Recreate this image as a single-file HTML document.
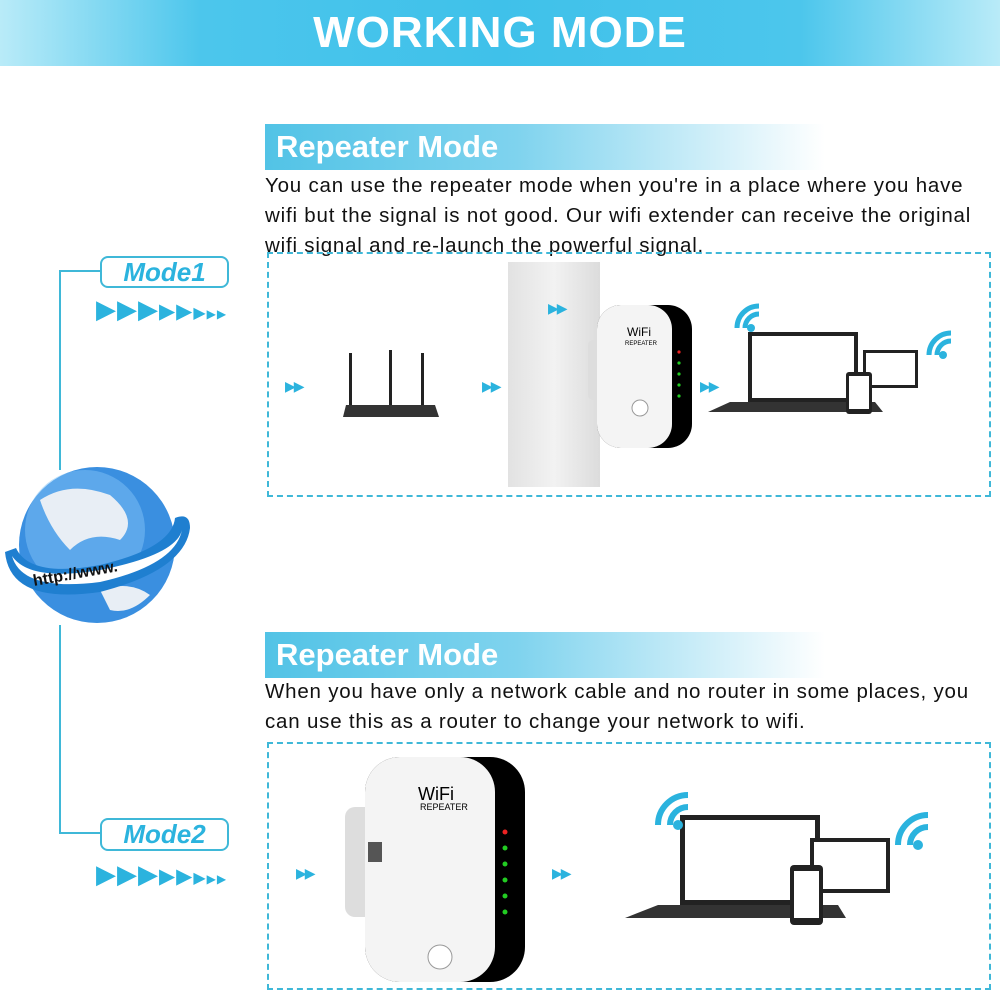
<!DOCTYPE html>
<html><head><meta charset="utf-8"><style>
body{margin:0;width:1000px;height:993px;background:#fff;position:relative;overflow:hidden;font-family:"Liberation Sans",sans-serif}
.abs{position:absolute}
.banner{left:0;top:0;width:1000px;height:66px;background:linear-gradient(90deg,#b9ebf8 0%,#4cc6ec 20%,#3fc1ea 50%,#4cc6ec 80%,#b9ebf8 100%);color:#fff;font-weight:bold;font-size:44px;text-align:center;line-height:66px;letter-spacing:1px}
.hdr{left:265px;width:560px;height:46px;background:linear-gradient(90deg,#52c3e6 0%,#7fd3ee 45%,#fff 100%);color:#fff;font-weight:bold;font-size:31px;line-height:46px;padding-left:11px;box-sizing:border-box}
.txt{left:265px;font-size:20.5px;line-height:30px;color:#111;letter-spacing:0.8px}
.box{border:2px dashed #3fb8d8;box-sizing:border-box}
.mode{border:2px solid #3fb8d8;border-radius:8px;color:#2bb3de;font-style:italic;font-weight:bold;font-size:26px;text-align:center;box-sizing:border-box;background:#fff}
.line{background:#3fb8d8}
.arr{color:#2bb3de;font-size:26px;letter-spacing:1px}
.sm{color:#2bb3de;font-size:14px;letter-spacing:-2px}
</style></head><body>
<div class="abs banner">WORKING MODE</div>

<div class="abs hdr" style="top:124px">Repeater Mode</div>
<div class="abs txt" style="top:171px;width:725px">You can use the repeater mode when you're in a place where you have wifi but the signal is not good. Our wifi extender can receive the original wifi signal and re-launch the powerful signal.</div>
<div class="abs box" style="left:267px;top:252px;width:724px;height:245px"></div>

<div class="abs hdr" style="top:632px">Repeater Mode</div>
<div class="abs txt" style="top:677px;width:725px">When you have only a network cable and no router in some places, you can use this as a router to change your network to wifi.</div>
<div class="abs box" style="left:267px;top:742px;width:724px;height:248px"></div>

<div class="abs line" style="left:59px;top:270px;width:2px;height:200px"></div>
<div class="abs line" style="left:59px;top:625px;width:2px;height:208px"></div>
<div class="abs line" style="left:59px;top:270px;width:42px;height:2px"></div>
<div class="abs line" style="left:59px;top:832px;width:42px;height:2px"></div>
<div class="abs mode" style="left:100px;top:256px;width:129px;height:32px;line-height:28px">Mode1</div>
<div class="abs mode" style="left:100px;top:818px;width:129px;height:33px;line-height:29px">Mode2</div>
<div class="abs arr" style="left:96px;top:294px">▶▶▶<span style="font-size:21px">▶▶</span><span style="font-size:16px">▶</span><span style="font-size:12px">▶▶</span></div>
<div class="abs arr" style="left:96px;top:859px">▶▶▶<span style="font-size:21px">▶▶</span><span style="font-size:16px">▶</span><span style="font-size:12px">▶▶</span></div>

<svg class="abs" style="left:0;top:460px" width="200" height="170">
<circle cx="97" cy="85" r="78" fill="#3a8fe0"/>
<circle cx="85" cy="70" r="60" fill="#7fc2f5" opacity=".5"/>
<path d="M40 40 Q70 20 110 35 Q140 60 120 80 Q90 70 70 90 Q50 70 40 40Z" fill="#e8eef5"/>
<path d="M100 130 Q130 120 150 135 Q130 155 110 150Z" fill="#e8eef5"/>
<path d="M5 92 Q10 145 100 132 Q185 110 190 68 Q190 52 175 58 Q172 88 100 105 Q30 118 16 88Z" fill="#1f7fd0"/>
<path d="M12 96 Q22 132 100 122 Q175 105 182 70 Q176 95 100 110 Q30 122 12 96Z" fill="#fff"/>
<text x="34" y="126" font-family="Liberation Sans" font-weight="bold" font-size="16" fill="#111" transform="rotate(-10 34 126)">http://www.</text>
</svg>

<div class="abs sm" style="left:285px;top:378px">▶▶</div>
<svg class="abs" style="left:343px;top:345px" width="100" height="80">
<rect x="6" y="8" width="3" height="55" fill="#222"/><rect x="46" y="5" width="3" height="58" fill="#222"/><rect x="78" y="8" width="3" height="55" fill="#222"/>
<path d="M3 60 L92 60 L96 72 L0 72Z" fill="#333"/>
</svg>
<div class="abs sm" style="left:482px;top:378px">▶▶</div>
<div class="abs" style="left:508px;top:262px;width:92px;height:225px;background:linear-gradient(90deg,#e2e2e2,#f2f2f2,#dcdcdc)"></div>
<div class="abs sm" style="left:548px;top:300px">▶▶</div>
<svg class="abs" style="left:585px;top:300px" width="110" height="150">
<rect x="3" y="40" width="25" height="60" rx="5" fill="#ddd"/>
<rect x="12" y="5" width="95" height="143" rx="24" fill="#000"/>
<rect x="12" y="5" width="75" height="143" rx="24" fill="#f4f4f4"/>
<text x="42" y="36" font-family="Liberation Sans" font-size="12">WiFi</text>
<text x="40" y="45" font-family="Liberation Sans" font-size="6">REPEATER</text>
<circle cx="55" cy="108" r="8" fill="#fff" stroke="#999"/>
<g fill="#2c2"><circle cx="94" cy="52" r="1.6" fill="#e22"/><circle cx="94" cy="63" r="1.6"/><circle cx="94" cy="74" r="1.6"/><circle cx="94" cy="85" r="1.6"/><circle cx="94" cy="96" r="1.6"/></g>
</svg>
<div class="abs sm" style="left:700px;top:378px">▶▶</div>
<svg class="abs" style="left:705px;top:300px" width="265" height="120">
<rect x="43" y="32" width="110" height="70" fill="#222"/><rect x="47" y="36" width="102" height="62" fill="#fff"/>
<path d="M25 102 L170 102 L178 112 L3 112Z" fill="#333"/>
<rect x="158" y="50" width="55" height="38" fill="#222"/><rect x="161" y="53" width="49" height="32" fill="#fff"/>
<rect x="141" y="72" width="26" height="42" rx="3" fill="#222"/><rect x="144" y="76" width="20" height="33" fill="#fff"/>
<g fill="none" stroke="#2bb3de" stroke-width="5"><path d="M40 28 a14 14 0 0 1 14 -14"/><path d="M32 28 a22 22 0 0 1 22 -22"/></g>
<circle cx="46" cy="28" r="4" fill="#2bb3de"/>
<g fill="none" stroke="#2bb3de" stroke-width="5"><path d="M232 55 a14 14 0 0 1 14 -14"/><path d="M224 55 a22 22 0 0 1 22 -22"/></g>
<circle cx="238" cy="55" r="4" fill="#2bb3de"/>
</svg>

<div class="abs sm" style="left:296px;top:865px">▶▶</div>
<svg class="abs" style="left:340px;top:752px" width="190" height="235">
<rect x="5" y="55" width="40" height="110" rx="10" fill="#ddd"/>
<rect x="25" y="5" width="160" height="225" rx="35" fill="#000"/>
<rect x="25" y="5" width="130" height="225" rx="35" fill="#f4f4f4"/>
<text x="78" y="48" font-family="Liberation Sans" font-size="18">WiFi</text>
<text x="80" y="58" font-family="Liberation Sans" font-size="9">REPEATER</text>
<rect x="28" y="90" width="14" height="20" fill="#555"/>
<circle cx="100" cy="205" r="12" fill="#fff" stroke="#999"/>
<g fill="#2c2"><circle cx="165" cy="80" r="2.5" fill="#e22"/><circle cx="165" cy="96" r="2.5"/><circle cx="165" cy="112" r="2.5"/><circle cx="165" cy="128" r="2.5"/><circle cx="165" cy="144" r="2.5"/><circle cx="165" cy="160" r="2.5"/></g>
</svg>
<div class="abs sm" style="left:552px;top:865px">▶▶</div>
<svg class="abs" style="left:620px;top:770px" width="330" height="190">
<rect x="60" y="45" width="140" height="90" fill="#222"/><rect x="65" y="50" width="130" height="80" fill="#fff"/>
<path d="M38 135 L218 135 L226 148 L5 148Z" fill="#333"/>
<rect x="190" y="68" width="80" height="55" fill="#222"/><rect x="194" y="72" width="72" height="47" fill="#fff"/>
<rect x="170" y="95" width="33" height="60" rx="4" fill="#222"/><rect x="174" y="101" width="25" height="47" fill="#fff"/>
<g fill="none" stroke="#2bb3de" stroke-width="6"><path d="M50 55 a18 18 0 0 1 18 -18"/><path d="M38 55 a30 30 0 0 1 30 -30"/></g>
<circle cx="58" cy="55" r="5" fill="#2bb3de"/>
<g fill="none" stroke="#2bb3de" stroke-width="6"><path d="M290 75 a18 18 0 0 1 18 -18"/><path d="M278 75 a30 30 0 0 1 30 -30"/></g>
<circle cx="298" cy="75" r="5" fill="#2bb3de"/>
</svg>
</body></html>
